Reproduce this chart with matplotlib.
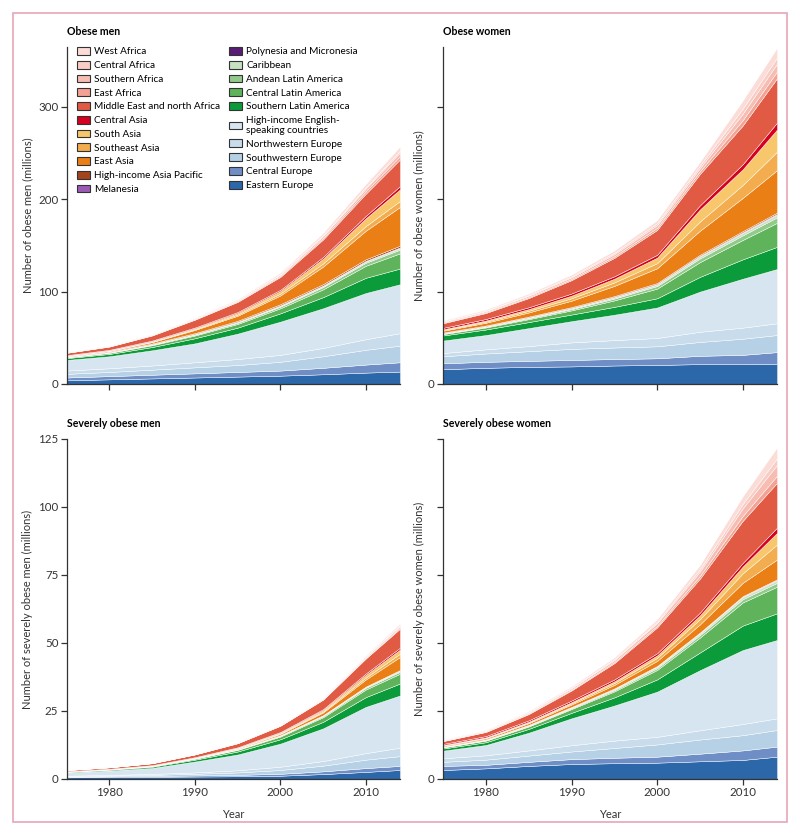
import matplotlib.pyplot as plt
from matplotlib.patches import Patch, Rectangle

plt.rcParams['font.family'] = ['Lato', 'DejaVu Sans']

years = [1975, 1980, 1985, 1990, 1995, 2000, 2005, 2010, 2014]

# regions from the bottom of the stack to the top
regions = ['Eastern Europe', 'Central Europe', 'Southwestern Europe', 'Northwestern Europe',
           'High-income English-\nspeaking countries', 'Southern Latin America',
           'Central Latin America', 'Andean Latin America', 'Caribbean',
           'Polynesia and Micronesia', 'Melanesia', 'High-income Asia Pacific',
           'East Asia', 'Southeast Asia', 'South Asia', 'Central Asia',
           'Middle East and north Africa', 'East Africa', 'Southern Africa',
           'Central Africa', 'West Africa']

colors = ['#2b67a9', '#6f8ec5', '#b6d1e6', '#c9dcec', '#d7e5f1', '#0b9b3a',
          '#5fb35b', '#92ca8c', '#c6e2c0', '#5b1c77', '#9b5bb4', '#a3441c',
          '#ea8015', '#f3ad4e', '#f8c76c', '#d7001e', '#e05a44', '#f3a293',
          '#f7bdb2', '#f9cdc6', '#fcdcd6']

# millions, one row per region in the order above
obese_men = [
    [4, 5, 6, 7, 8, 9, 10.5, 12.3, 13.4],
    [3, 3.5, 4, 4.5, 5, 5.5, 7, 8.7, 10.1],
    [4, 4.5, 5.5, 6.5, 7.5, 9.5, 12.5, 16, 18],
    [3.5, 4, 4.5, 5.5, 6.5, 7.5, 9, 11.5, 13.5],
    [11.5, 13, 16.5, 20.5, 27.5, 36, 43, 50, 53],
    [2, 2.5, 3.5, 5.5, 6.5, 9, 12, 16.5, 17],
    [0.8, 1.2, 2, 3, 4, 5.5, 8.5, 13, 16.5],
    [0.3, 0.4, 0.6, 0.9, 1.3, 1.8, 2.5, 3.3, 4],
    [0.3, 0.4, 0.5, 0.6, 0.8, 1, 1.2, 1.4, 1.6],
    [0.05, 0.06, 0.08, 0.1, 0.12, 0.15, 0.2, 0.25, 0.3],
    [0.05, 0.07, 0.1, 0.15, 0.2, 0.25, 0.35, 0.45, 0.55],
    [0.4, 0.5, 0.6, 0.8, 1, 1.2, 1.4, 1.6, 1.8],
    [0.4, 0.7, 1.5, 3.5, 5.5, 9.5, 19, 31, 42],
    [0.2, 0.3, 0.5, 0.8, 1.3, 2, 3.4, 5, 6.5],
    [0.3, 0.4, 0.6, 1, 1.7, 2.8, 5.2, 8.5, 12.5],
    [0.4, 0.5, 0.6, 0.8, 1, 1.3, 1.8, 2.6, 3.5],
    [2.5, 3.5, 5.5, 8.5, 11, 14, 19, 24, 29],
    [0.2, 0.25, 0.35, 0.5, 0.7, 1.1, 1.7, 2.6, 3.5],
    [0.4, 0.45, 0.55, 0.7, 0.9, 1.3, 2, 3, 4],
    [0.1, 0.15, 0.2, 0.3, 0.4, 0.6, 1, 1.5, 2],
    [0.3, 0.35, 0.5, 0.7, 1, 1.5, 2.3, 3.4, 4.5],
]

obese_women = [
    [16, 17.5, 18.5, 19, 20, 20.6, 21.5, 21.5, 22],
    [6.4, 6.5, 6.5, 7, 7, 7.2, 9, 10, 12.5],
    [7.6, 9, 10.5, 12, 12.5, 13, 15, 17.5, 18.5],
    [3.5, 4.5, 5.5, 7, 8, 9, 11, 12, 12.7],
    [13.5, 15.5, 19.5, 23, 27.5, 33, 43.5, 53, 58.8],
    [5.5, 6, 6.5, 7.2, 8.5, 10, 16, 21, 24],
    [1.5, 2.2, 3.2, 4.5, 7, 10.5, 16, 21, 26],
    [0.5, 0.7, 1, 1.4, 2, 2.8, 4, 5, 6],
    [0.5, 0.6, 0.8, 1, 1.3, 1.6, 2.1, 2.4, 2.7],
    [0.08, 0.1, 0.12, 0.15, 0.2, 0.25, 0.3, 0.35, 0.4],
    [0.08, 0.1, 0.15, 0.2, 0.3, 0.4, 0.5, 0.6, 0.7],
    [0.5, 0.6, 0.7, 0.8, 0.9, 1, 1.1, 1.2, 1.3],
    [2, 3, 4.5, 7, 11, 16, 26, 36, 46],
    [0.8, 1.2, 1.8, 2.6, 3.8, 5.5, 10, 14, 20],
    [0.8, 1.2, 1.8, 2.8, 4, 6, 13, 17, 24],
    [1.5, 1.7, 2, 2.3, 2.6, 3, 4.5, 5.5, 7.5],
    [5, 6.5, 10, 14.5, 20, 27, 34, 42, 48],
    [0.6, 0.8, 1.0, 1.3, 1.7, 2.3, 2.9, 5.8, 7.3],
    [1, 1.2, 1.5, 1.8, 2.3, 3, 3.6, 7, 8.5],
    [0.5, 0.6, 0.8, 1.1, 1.5, 2, 2.6, 5.4, 6.7],
    [0.9, 1.2, 1.5, 1.8, 2.5, 3.2, 3.9, 8.8, 10.5],
]

severe_men = [
    [0.6, 0.7, 0.8, 0.9, 1.0, 1.2, 1.8, 2.6, 3.3],
    [0.2, 0.25, 0.3, 0.4, 0.5, 0.7, 1.0, 1.4, 1.5],
    [0.2, 0.3, 0.4, 0.6, 0.9, 1.4, 2.1, 3.1, 3.6],
    [0.2, 0.25, 0.35, 0.5, 0.8, 1.2, 1.7, 2.4, 3.1],
    [1.2, 1.6, 2.2, 4, 5.8, 8.5, 12, 17, 19.2],
    [0.2, 0.3, 0.45, 0.7, 1.1, 1.6, 2.4, 3.6, 4.4],
    [0.08, 0.12, 0.2, 0.35, 0.6, 1, 1.7, 2.8, 3.6],
    [0.03, 0.04, 0.06, 0.1, 0.15, 0.25, 0.4, 0.6, 0.75],
    [0.03, 0.04, 0.06, 0.08, 0.11, 0.15, 0.2, 0.28, 0.35],
    [0.01, 0.01, 0.02, 0.02, 0.03, 0.04, 0.05, 0.06, 0.07],
    [0.01, 0.01, 0.02, 0.02, 0.03, 0.04, 0.05, 0.07, 0.09],
    [0.01, 0.01, 0.02, 0.02, 0.03, 0.04, 0.06, 0.08, 0.1],
    [0.02, 0.03, 0.05, 0.1, 0.2, 0.45, 1.0, 2.6, 4.8],
    [0.01, 0.02, 0.03, 0.05, 0.1, 0.2, 0.35, 0.7, 1.2],
    [0.02, 0.03, 0.05, 0.08, 0.15, 0.3, 0.55, 1.0, 1.5],
    [0.05, 0.06, 0.08, 0.1, 0.15, 0.2, 0.3, 0.5, 0.7],
    [0.4, 0.5, 0.7, 1, 1.5, 2.3, 3.5, 5.5, 7],
    [0.02, 0.02, 0.03, 0.04, 0.06, 0.09, 0.15, 0.25, 0.4],
    [0.05, 0.06, 0.07, 0.09, 0.12, 0.17, 0.25, 0.4, 0.6],
    [0.01, 0.01, 0.02, 0.03, 0.04, 0.06, 0.1, 0.17, 0.3],
    [0.02, 0.03, 0.04, 0.05, 0.08, 0.12, 0.2, 0.35, 0.6],
]

severe_women = [
    [3.3, 3.9, 4.8, 5.5, 5.8, 6, 6.5, 7, 8.2],
    [1.5, 1.3, 1.5, 1.8, 2, 2.2, 2.8, 3.5, 3.7],
    [1.5, 1.9, 2.3, 2.8, 3.6, 4.5, 5.2, 5.6, 6.1],
    [1.3, 1.6, 1.9, 2.3, 2.7, 2.8, 3.4, 4.1, 4.3],
    [2.8, 3.8, 6.5, 9.9, 12.9, 16.6, 22.1, 27.2, 28.8],
    [0.8, 1, 1.4, 2, 3, 4.5, 6.5, 9, 9.8],
    [0.4, 0.6, 0.9, 1.4, 2.2, 3.5, 5.5, 8.5, 9.8],
    [0.1, 0.15, 0.2, 0.3, 0.45, 0.65, 0.9, 1.2, 1.4],
    [0.15, 0.2, 0.25, 0.3, 0.4, 0.5, 0.6, 0.7, 0.8],
    [0.03, 0.04, 0.05, 0.06, 0.08, 0.1, 0.12, 0.14, 0.16],
    [0.02, 0.03, 0.04, 0.05, 0.07, 0.09, 0.12, 0.15, 0.18],
    [0.05, 0.06, 0.07, 0.08, 0.09, 0.1, 0.12, 0.14, 0.15],
    [0.3, 0.4, 0.6, 0.9, 1.3, 1.9, 3, 4.9, 7.3],
    [0.15, 0.2, 0.3, 0.45, 0.7, 1.1, 1.9, 3.5, 5.5],
    [0.1, 0.15, 0.25, 0.4, 0.6, 0.9, 1.4, 2.5, 4.3],
    [0.4, 0.45, 0.5, 0.6, 0.7, 0.8, 1, 1.3, 1.9],
    [1, 1.5, 2.3, 3.7, 6, 9.5, 12.5, 15.5, 16.5],
    [0.12, 0.16, 0.22, 0.3, 0.42, 0.6, 1, 1.8, 2.6],
    [0.2, 0.27, 0.36, 0.5, 0.7, 1, 1.6, 2.8, 4],
    [0.1, 0.13, 0.18, 0.25, 0.35, 0.5, 0.9, 1.6, 2.4],
    [0.18, 0.24, 0.34, 0.45, 0.63, 0.9, 1.5, 2.8, 4],
]

dark = '#333333'

fig = plt.figure(figsize=(8, 8.36), dpi=100)
fig.patches.append(Rectangle((0.01625, 0.0167), 0.9675, 0.9677, transform=fig.transFigure,
                             fill=False, edgecolor='#e8a6b8', linewidth=1.2))

panels = [
    ([0.0834, 0.5407, 0.4166, 0.4031], obese_men, 'Obese men',
     'Number of obese men (millions)', True, True),
    ([0.5538, 0.5407, 0.4175, 0.4031], obese_women, 'Obese women',
     'Number of obese women (millions)', True, False),
    ([0.0834, 0.0682, 0.4166, 0.4067], severe_men, 'Severely obese men',
     'Number of severely obese men (millions)', False, True),
    ([0.5538, 0.0682, 0.4175, 0.4067], severe_women, 'Severely obese women',
     'Number of severely obese women (millions)', False, False),
]

for rect, values, title, ylabel, top, left in panels:
    ax = fig.add_axes(rect)
    polys = ax.stackplot(years, values, colors=colors, edgecolor='white', linewidth=0.3)
    for p in polys:
        p.set_clip_on(False)
    ax.set_xlim(1975, 2014)
    ax.set_xticks([1980, 1990, 2000, 2010])
    if top:
        ax.set_ylim(0, 365)
        yt = [0, 100, 200, 300]
        ax.set_xticklabels([])
    else:
        ax.set_ylim(0, 125)
        yt = [0, 25, 50, 75, 100, 125]
        ax.set_xlabel('Year', fontsize=8, color=dark)
        ax.xaxis.set_label_coords(0.5, -0.088)
    ax.set_yticks(yt)
    if left:
        ax.set_yticklabels([str(v) for v in yt])
        ax.yaxis.set_label_coords(-0.1, 0.5)
    else:
        ax.set_yticklabels(['0'] + [''] * (len(yt) - 1))
        ax.yaxis.set_label_coords(-0.055, 0.5)
    ax.set_ylabel(ylabel, fontsize=8, color=dark)
    for s in ['top', 'right']:
        ax.spines[s].set_visible(False)
    for s in ['left', 'bottom']:
        ax.spines[s].set_color(dark)
        ax.spines[s].set_linewidth(0.9)
    ax.tick_params(direction='out', length=4, width=0.9, color=dark,
                   labelcolor=dark, labelsize=8.3, pad=2)
    ax.text(0, 1.045, title, transform=ax.transAxes, fontsize=7.6, fontweight='bold',
            va='center', ha='left', color='black')

    if title == 'Obese men':
        handles = [Patch(facecolor=c, edgecolor=dark, linewidth=0.8, label=r)
                   for c, r in zip(colors, regions)][::-1]
        ax.legend(handles=handles, ncol=2, loc='upper left', frameon=False,
                  bbox_to_anchor=(77 / 800, 1 - 47 / 836), bbox_transform=fig.transFigure,
                  fontsize=7.2, handlelength=1.3, handleheight=0.85, handletextpad=0.45,
                  labelspacing=0.43, columnspacing=0.8, borderpad=0, borderaxespad=0)

fig.savefig('out.png', dpi=100)
